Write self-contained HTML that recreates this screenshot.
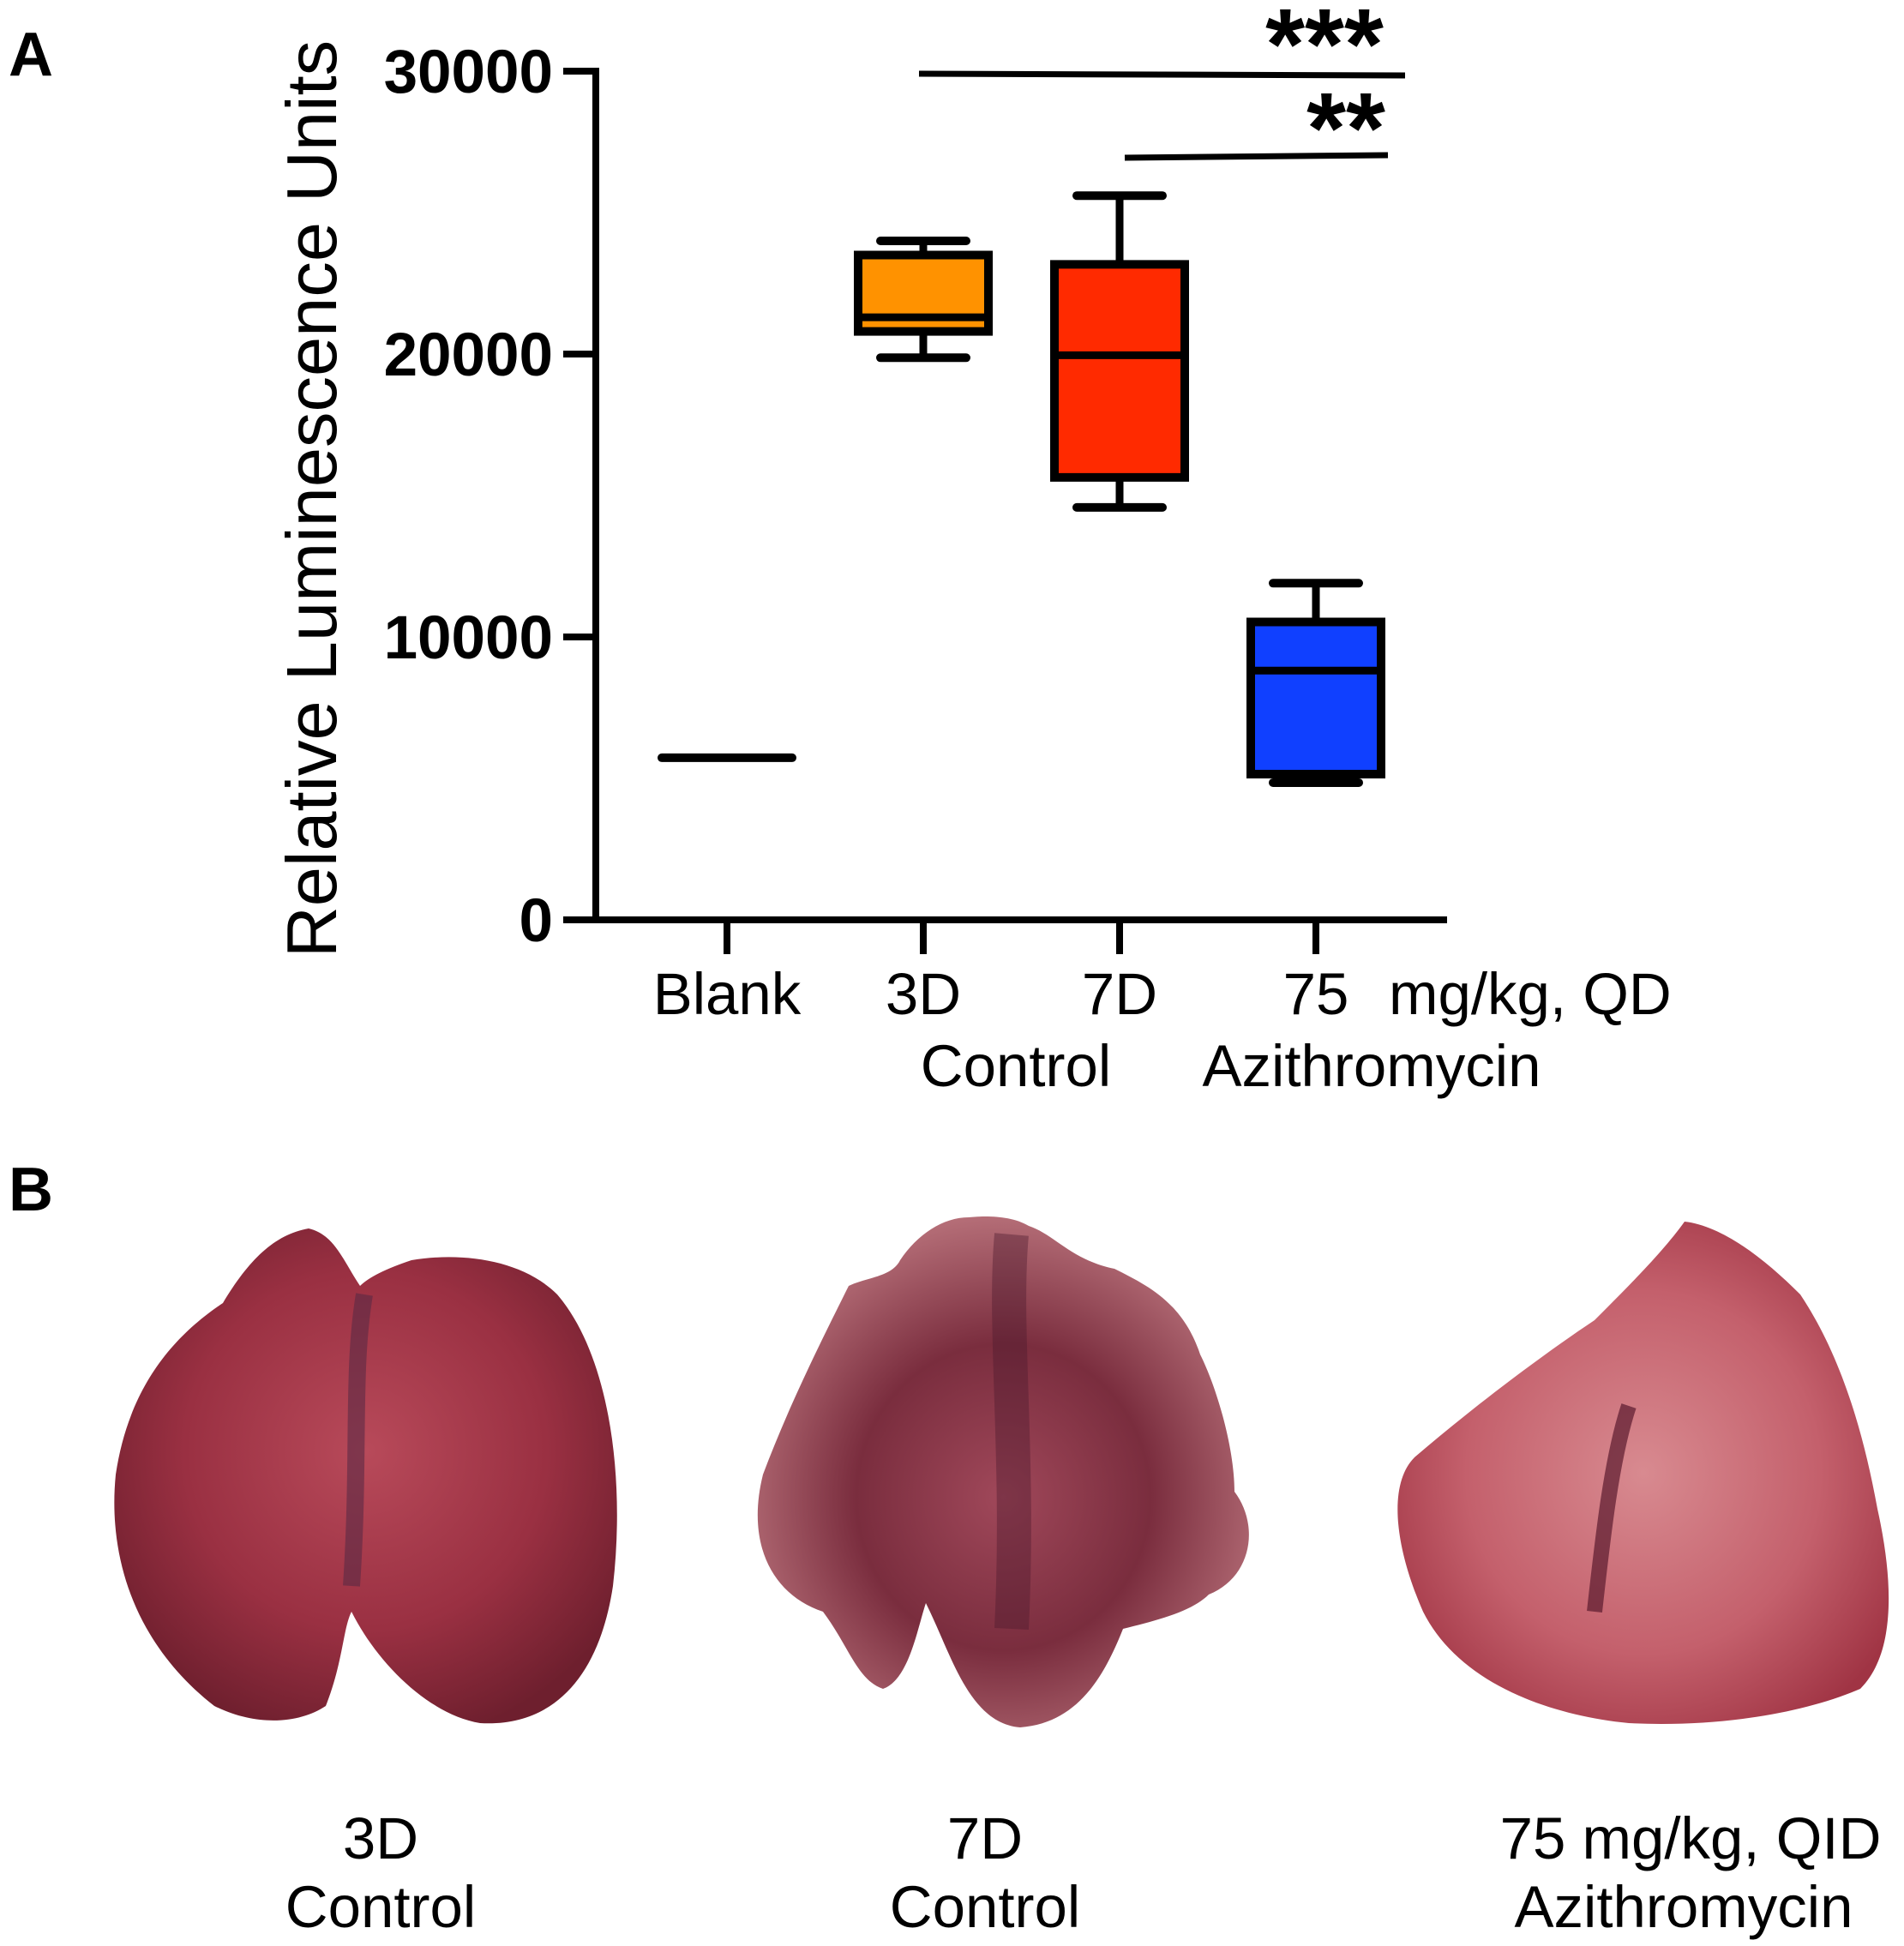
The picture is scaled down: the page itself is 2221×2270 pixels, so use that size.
<!DOCTYPE html>
<html><head><meta charset="utf-8"><style>
html,body{margin:0;padding:0;background:#fff;}
svg{display:block;font-family:"Liberation Sans",Arial,sans-serif;}
</style></head><body>
<svg id="fig" width="2221" height="2270" viewBox="0 0 2221 2270" xmlns="http://www.w3.org/2000/svg">
<defs>
<radialGradient id="g1" cx="50%" cy="45%" r="60%"><stop offset="0" stop-color="#b84a5a"/><stop offset="0.6" stop-color="#9a3042"/><stop offset="1" stop-color="#6e1f2e"/></radialGradient>
<radialGradient id="g2" cx="50%" cy="55%" r="60%"><stop offset="0" stop-color="#a0485a"/><stop offset="0.5" stop-color="#7a2d3e"/><stop offset="1" stop-color="#c07a82"/></radialGradient>
<radialGradient id="g3" cx="50%" cy="50%" r="60%"><stop offset="0" stop-color="#d88a90"/><stop offset="0.6" stop-color="#c4606c"/><stop offset="1" stop-color="#a03444"/></radialGradient>
</defs>
<text x="10" y="88" font-size="72" font-weight="bold">A</text>
<text x="10" y="1412" font-size="72" font-weight="bold">B</text>
<g id="chart"></g>
<g>
<path d="M360,1433 C320,1440 290,1470 260,1520 C200,1560 150,1620 135,1720 C125,1820 160,1920 250,1990 C300,2015 350,2010 380,1990 C400,1940 400,1900 410,1880 C440,1940 500,2000 560,2010 C650,2015 700,1950 715,1850 C730,1720 710,1580 650,1510 C610,1470 540,1460 480,1470 C450,1480 430,1490 420,1500 C400,1470 390,1440 360,1433 Z" fill="url(#g1)"/>
<path d="M1130,1420 C1100,1420 1070,1440 1050,1470 C1040,1490 1010,1490 990,1500 C960,1560 920,1640 890,1720 C870,1800 900,1860 960,1880 C990,1920 1000,1960 1030,1970 C1060,1960 1070,1900 1080,1870 C1110,1930 1130,2010 1190,2015 C1260,2010 1290,1950 1310,1900 C1350,1890 1390,1880 1410,1860 C1460,1840 1470,1780 1440,1740 C1440,1690 1420,1620 1400,1580 C1380,1520 1340,1500 1300,1480 C1250,1470 1230,1440 1200,1430 C1180,1418 1150,1418 1130,1420 Z" fill="url(#g2)"/>
<path d="M1965,1425 C1940,1460 1900,1500 1860,1540 C1800,1580 1720,1640 1650,1700 C1620,1730 1625,1800 1660,1880 C1700,1960 1800,2000 1900,2010 C2000,2015 2100,2000 2170,1970 C2210,1930 2210,1850 2190,1760 C2170,1650 2140,1570 2100,1510 C2060,1470 2010,1430 1965,1425 Z" fill="url(#g3)"/>
<path d="M1900,1640 C1880,1700 1870,1790 1860,1880" stroke="#5a1a2e" stroke-width="18" fill="none" opacity="0.7"/>
<path d="M425,1510 C410,1600 420,1700 410,1850" stroke="#5a2a45" stroke-width="20" fill="none" opacity="0.6"/>
<path d="M1180,1440 C1170,1550 1190,1700 1180,1900" stroke="#4a1a2e" stroke-width="40" fill="none" opacity="0.4"/>
</g>
<g font-size="69" text-anchor="middle">
<text x="444" y="2168">3D</text>
<text x="444" y="2248">Control</text>
<text x="1149" y="2168">7D</text>
<text x="1149" y="2248">Control</text>
<text x="1972" y="2168">75 mg/kg, QID</text>
<text x="1964" y="2248">Azithromycin</text>
</g>
</svg>
<script>
const categories = ["Blank", "3D", "7D", "75"];
const whiskerMax = [5730, 24000, 25600, 11900];
const q3Values = [5730, 23500, 23170, 10530];
const medianValues = [5730, 21300, 19960, 8810];
const q1Values = [5730, 20800, 15640, 5150];
const whiskerMin = [5730, 19870, 14580, 4850];
const boxColors = ["#000", "#ff9200", "#ff2a00", "#1040ff"];
const yTicks = [0, 10000, 20000, 30000];
const yTickLabels = ["0", "10000", "20000", "30000"];

const NS = "http://www.w3.org/2000/svg";
const g = document.getElementById("chart");
const y0 = 1073, pxPer = 330/10000;
const yScale = v => y0 - v*pxPer;
const xStart = 848, xStep = 229;
const xScale = i => xStart + i*xStep;
function el(tag, attrs, parent){ const e=document.createElementNS(NS,tag); for(const k in attrs) e.setAttribute(k,attrs[k]); (parent||g).appendChild(e); return e; }

const ax = el("line",{x1:695,y1:yScale(30000)-4,x2:695,y2:y0+4,stroke:"#000","stroke-width":8});


const xa = el("line",{x1:657,y1:y0,x2:1688,y2:y0,stroke:"#000","stroke-width":8});



yTicks.forEach((t,i)=>{
  const tk = el("line",{x1:657,y1:yScale(t),x2:695,y2:yScale(t),stroke:"#000","stroke-width":8});
  
  
  const tx = el("text",{x:645,y:yScale(t)+25,"font-size":71,"font-weight":"bold","text-anchor":"end"});
  tx.textContent = yTickLabels[i];
  
  
});
const yt = el("text",{x:0,y:0,"font-size":83,"text-anchor":"middle",transform:"translate(392,582) rotate(-90)"});
yt.textContent = "Relative Luminescence Units";



categories.forEach((c,i)=>{
  const x = xScale(i);
  const tk = el("line",{x1:x,y1:y0,x2:x,y2:y0+40,stroke:"#000","stroke-width":8});
  
  
  const tx = el("text",{x:x,y:1183,"font-size":69,"text-anchor":"middle"});
  tx.textContent = c;
  
  
  const hw = 76, cw = 50;
  if (i===0){
    const m = el("line",{x1:x-hw,y1:yScale(medianValues[i]),x2:x+hw,y2:yScale(medianValues[i]),stroke:"#000","stroke-width":10,"stroke-linecap":"round"});
    
    
    return;
  }
  const grp = el("g",{});
  
  
  el("line",{x1:x,y1:yScale(whiskerMax[i]),x2:x,y2:yScale(q3Values[i]),stroke:"#000","stroke-width":9},grp);
  el("line",{x1:x,y1:yScale(q1Values[i]),x2:x,y2:yScale(whiskerMin[i]),stroke:"#000","stroke-width":9},grp);
  el("line",{x1:x-cw,y1:yScale(whiskerMax[i]),x2:x+cw,y2:yScale(whiskerMax[i]),stroke:"#000","stroke-width":10,"stroke-linecap":"round"},grp);
  el("line",{x1:x-cw,y1:yScale(whiskerMin[i]),x2:x+cw,y2:yScale(whiskerMin[i]),stroke:"#000","stroke-width":10,"stroke-linecap":"round"},grp);
  el("rect",{x:x-hw,y:yScale(q3Values[i]),width:2*hw,height:yScale(q1Values[i])-yScale(q3Values[i]),fill:boxColors[i],stroke:"#000","stroke-width":10},grp);
  el("line",{x1:x-hw,y1:yScale(medianValues[i]),x2:x+hw,y2:yScale(medianValues[i]),stroke:"#000","stroke-width":9},grp);
});
const extra = [["mg/kg, QD",1620,1183,"start","x-label-dose"],["Control",1185,1267,"middle","x-group-label-control"],["Azithromycin",1600,1267,"middle","x-group-label-azithromycin"]];
extra.forEach(e=>{
  const t = el("text",{x:e[1],y:e[2],"font-size":69,"text-anchor":e[3]});
  t.textContent = e[0];
  
  
});
const s1 = el("line",{x1:1072,y1:86,x2:1639,y2:88,stroke:"#000","stroke-width":7});


const s2 = el("line",{x1:1312,y1:184,x2:1619,y2:181,stroke:"#000","stroke-width":7});


const st1 = el("text",{x:1545,y:92,"font-size":118,"font-weight":"bold","text-anchor":"middle"});
st1.textContent = "***";


const st2 = el("text",{x:1570,y:190,"font-size":118,"font-weight":"bold","text-anchor":"middle"});
st2.textContent = "**";


</script>
</body></html>
